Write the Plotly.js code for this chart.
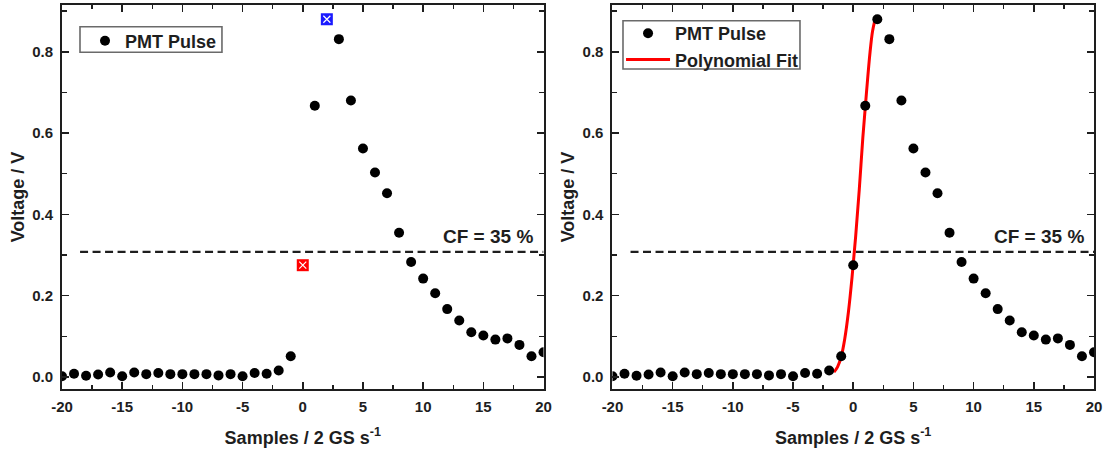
<!DOCTYPE html>
<html>
<head>
<meta charset="utf-8">
<script src="https://cdn.plot.ly/plotly-3.0.1.min.js"></script>
<style>
  html, body { margin: 0; padding: 0; background: #fff; }
  #chart { width: 1103px; height: 454px; }
</style>
</head>
<body>
<div id="chart"></div>
<script>
// PMT pulse sampled at 2 GS/s, voltages in V
const samples = [-20, -19, -18, -17, -16, -15, -14, -13, -12, -11, -10, -9, -8, -7, -6, -5, -4, -3, -2, -1,
                 0, 1, 2, 3, 4, 5, 6, 7, 8, 9, 10, 11, 12, 13, 14, 15, 16, 17, 18, 19, 20];
const voltage = [0.002, 0.008, 0.003, 0.006, 0.011, 0.002, 0.011, 0.007, 0.010, 0.007,
                 0.007, 0.007, 0.007, 0.004, 0.007, 0.002, 0.010, 0.008, 0.016, 0.051,
                 0.275, 0.667, 0.880, 0.831, 0.680, 0.562, 0.503, 0.452, 0.355, 0.283,
                 0.242, 0.206, 0.167, 0.139, 0.110, 0.102, 0.092, 0.095, 0.079, 0.051, 0.061];

// polynomial fit of the rising edge
const fitX = [-1.6, -1.3, -1.0, -0.7, -0.4, -0.1, 0.2, 0.5, 0.8, 1.1, 1.4, 1.6, 1.8];
const fitY = [0.012, 0.025, 0.050, 0.095, 0.160, 0.245, 0.345, 0.460, 0.590, 0.700, 0.800, 0.850, 0.878];

// constant-fraction discriminator level
const cfFraction = 0.35;
const cfLabel = 'CF = 35 %';
const cfLineStart = -18.5;
const cfLineEnd = 20;

const xTickVals = [-20, -15, -10, -5, 0, 5, 10, 15, 20];
const xTickText = ['-20', '-15', '-10', '-5', '0', '5', '10', '15', '20'];
const yTickVals = [0.0, 0.2, 0.4, 0.6, 0.8];
const yTickText = ['0.0', '0.2', '0.4', '0.6', '0.8'];

// peak sample and last sample below the CF level on the rising edge
let peakIdx = 0;
voltage.forEach((v, i) => { if (v > voltage[peakIdx]) peakIdx = i; });
const threshold = cfFraction * voltage[peakIdx];
let cfIdx = 0;
for (let i = 0; i < peakIdx; i++) { if (voltage[i] < threshold) cfIdx = i; }

const leftX = samples.filter((_, i) => i !== peakIdx && i !== cfIdx);
const leftY = voltage.filter((_, i) => i !== peakIdx && i !== cfIdx);

const FONT = 'Liberation Sans, Arial, Helvetica, sans-serif';
const INK = '#1e1e1e';

const dot = { symbol: 'circle', size: 10, color: '#000' };
const cfDash = { color: INK, width: 2.2, dash: '8px,4.5px' };

const traces = [
  // left panel
  { x: [cfLineStart, cfLineEnd], y: [threshold, threshold], mode: 'lines', xaxis: 'x', yaxis: 'y',
    line: cfDash, showlegend: false, hoverinfo: 'skip' },
  { x: leftX, y: leftY, mode: 'markers', name: 'PMT Pulse', xaxis: 'x', yaxis: 'y',
    marker: dot, legend: 'legend' },
  { x: [samples[cfIdx]], y: [voltage[cfIdx]], mode: 'markers', xaxis: 'x', yaxis: 'y', showlegend: false,
    marker: { symbol: 'square', size: 12, color: '#ff0000' } },
  { x: [samples[cfIdx]], y: [voltage[cfIdx]], mode: 'markers', xaxis: 'x', yaxis: 'y', showlegend: false,
    marker: { symbol: 'x-thin', size: 7, color: '#fff', line: { color: '#fff', width: 1.2 } } },
  { x: [samples[peakIdx]], y: [voltage[peakIdx]], mode: 'markers', xaxis: 'x', yaxis: 'y', showlegend: false,
    marker: { symbol: 'square', size: 12, color: '#1a1aff' } },
  { x: [samples[peakIdx]], y: [voltage[peakIdx]], mode: 'markers', xaxis: 'x', yaxis: 'y', showlegend: false,
    marker: { symbol: 'x-thin', size: 7, color: '#fff', line: { color: '#fff', width: 1.2 } } },

  // right panel
  { x: [cfLineStart, cfLineEnd], y: [threshold, threshold], mode: 'lines', xaxis: 'x2', yaxis: 'y2',
    line: cfDash, showlegend: false, hoverinfo: 'skip' },
  { x: fitX, y: fitY, mode: 'lines', name: 'Polynomial Fit', xaxis: 'x2', yaxis: 'y2',
    line: { color: '#ff0000', width: 3, shape: 'spline' }, legend: 'legend2', legendrank: 2 },
  { x: samples, y: voltage, mode: 'markers', name: 'PMT Pulse', xaxis: 'x2', yaxis: 'y2',
    marker: dot, legend: 'legend2', legendrank: 1 }
];

function xAxis(domain, anchor) {
  return {
    domain: domain, anchor: anchor, range: [-20, 20],
    tickmode: 'array', tickvals: xTickVals, ticktext: xTickText,
    ticks: 'inside', ticklen: 7, tickwidth: 1.6, tickcolor: INK, ticklabelstandoff: 3,
    minor: { tickmode: 'linear', tick0: -20, dtick: 2.5, ticks: 'inside', ticklen: 4, tickwidth: 1.3, tickcolor: INK },
    showline: true, linecolor: INK, linewidth: 2, mirror: 'ticks',
    showgrid: false, zeroline: false,
    tickfont: { family: FONT, size: 15, weight: 'bold', color: INK },
    title: { text: 'Samples / 2 GS s<sup>-1</sup>', font: { family: FONT, size: 18, weight: 'bold', color: INK }, standoff: 17 }
  };
}
function yAxis(anchor) {
  return {
    domain: [0, 1], anchor: anchor, range: [-0.0295, 0.915],
    tickmode: 'array', tickvals: yTickVals, ticktext: yTickText,
    ticks: 'inside', ticklen: 7, tickwidth: 1.6, tickcolor: INK, ticklabelstandoff: 4,
    minor: { tickmode: 'linear', tick0: 0, dtick: 0.1, ticks: 'inside', ticklen: 5, tickwidth: 1.3, tickcolor: INK },
    showline: true, linecolor: INK, linewidth: 2, mirror: 'ticks',
    showgrid: false, zeroline: false,
    tickfont: { family: FONT, size: 15, weight: 'bold', color: INK },
    title: { text: 'Voltage / V', font: { family: FONT, size: 18, weight: 'bold', color: INK }, standoff: 3 }
  };
}

const legendStyle = {
  xanchor: 'left', yanchor: 'top', bgcolor: 'rgba(0,0,0,0)', borderwidth: 0,
  font: { family: FONT, size: 18, weight: 'bold', color: INK }, traceorder: 'normal'
};

// frames drawn around the two legends
const legendFrame = { type: 'rect', xref: 'paper', yref: 'paper', line: { color: '#6a6a6a', width: 1.6 }, fillcolor: 'rgba(0,0,0,0)' };

const layout = {
  width: 1103, height: 454,
  margin: { l: 62, r: 9, t: 5, b: 65 },
  paper_bgcolor: '#fff', plot_bgcolor: '#fff',
  showlegend: true,
  xaxis: xAxis([0, 0.4666], 'y'),
  yaxis: yAxis('x'),
  xaxis2: xAxis([0.5334, 1], 'y2'),
  yaxis2: yAxis('x2'),
  legend: Object.assign({ x: 0.0223, y: 0.9544 }, legendStyle),
  legend2: Object.assign({ x: 0.5417, y: 0.974, itemwidth: 44 }, legendStyle),
  shapes: [
    Object.assign({ x0: 0.01744, x1: 0.155, y0: 0.8768, y1: 0.9435 }, legendFrame),
    Object.assign({ x0: 0.5436, x1: 0.7151, y0: 0.8333, y1: 0.9591 }, legendFrame)
  ],
  annotations: [
    { xref: 'x', yref: 'y', x: 19.3, y: threshold, xanchor: 'right', yanchor: 'bottom', yshift: 3,
      text: cfLabel, showarrow: false, font: { family: FONT, size: 19, weight: 'bold', color: INK } },
    { xref: 'x2', yref: 'y2', x: 19.3, y: threshold, xanchor: 'right', yanchor: 'bottom', yshift: 3,
      text: cfLabel, showarrow: false, font: { family: FONT, size: 19, weight: 'bold', color: INK } }
  ]
};

Plotly.newPlot('chart', traces, layout, { staticPlot: true, displayModeBar: false });
</script>
</body>
</html>
